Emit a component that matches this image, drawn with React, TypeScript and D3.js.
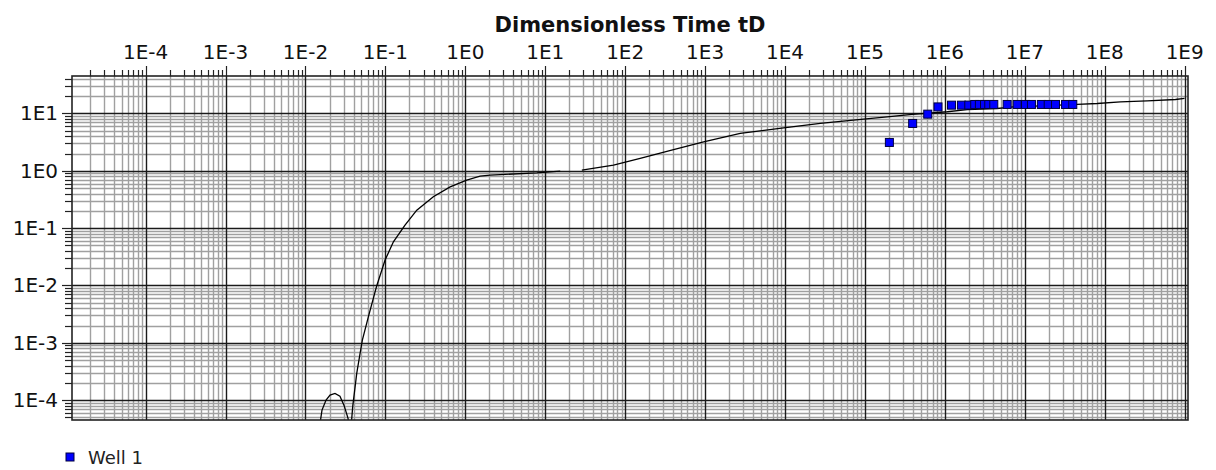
import React from 'react';
import * as d3 from 'd3';

// Axis decades (exponents) labelled on the chart
const X_EXPONENTS = [-4, -3, -2, -1, 0, 1, 2, 3, 4, 5, 6, 7, 8, 9];
const Y_EXPONENTS = [-4, -3, -2, -1, 0, 1];
const X_DOMAIN: [number, number] = [1.2e-5, 1.1e9];
const Y_DOMAIN: [number, number] = [4.5e-5, 45];

const TITLE = 'Dimensionless Time tD';
const SERIES_NAME = 'Well 1';

// Type curve (dimensionless pressure vs tD), first segment
const earlyTD = [
  0.0145, 0.0161, 0.0181, 0.0203, 0.0234, 0.027, 0.0304, 0.0341, 0.0361, 0.039,
  0.0438, 0.0482, 0.0515, 0.0612, 0.078, 0.0991, 0.126, 0.176, 0.247, 0.398,
  0.646, 1.04, 1.53, 2.04, 7.85, 15.4,
];
const earlyPD = [
  2.5e-5, 6.7e-5, 1.0e-4, 1.22e-4, 1.31e-4, 1.17e-4, 8.1e-5, 4.8e-5, 2.0e-5, 7.7e-5,
  2.93e-4, 6.5e-4, 1.11e-3, 2.84e-3, 9.9e-3, 0.0277, 0.0577, 0.113, 0.206, 0.352,
  0.525, 0.687, 0.807, 0.839, 0.92, 0.986,
];
// Type curve, second segment
const lateTD = [
  28.7, 71.4, 154, 403, 957, 2750, 9.6e3, 2.76e4, 9.6e4, 1.89e5, 3.89e5, 1.07e6,
  1.9e6, 4.5e6, 7.19e6, 4.52e7, 8.04e7, 1.57e8, 3.4e8, 7.67e8, 9.95e8,
];
const latePD = [
  1.03, 1.26, 1.64, 2.35, 3.2, 4.48, 5.61, 6.7, 7.96, 8.73, 9.62, 10.7,
  11.7, 12.2, 13.0, 14.4, 14.9, 15.9, 16.6, 17.5, 18.3,
];

// Well 1 observed points
const wellTD = [
  2.02e5, 3.95e5, 6.1e5, 8.2e5, 1.21e6, 1.61e6, 1.99e6, 2.36e6, 2.7e6, 3.13e6, 3.54e6,
  4.09e6, 6.01e6, 8.02e6, 1.02e7, 1.21e7, 1.61e7, 1.96e7, 2.42e7, 3.23e7, 3.98e7,
];
const wellPD = [
  3.12, 6.69, 9.72, 13.0, 13.95, 13.95, 14.0, 14.35, 14.35, 14.35, 14.35,
  14.35, 14.35, 14.35, 14.35, 14.35, 14.35, 14.35, 14.35, 14.35, 14.35,
];

function logValues(domain: [number, number], mults: number[]) {
  const out: number[] = [];
  const lo = Math.floor(Math.log10(domain[0])) - 1;
  const hi = Math.ceil(Math.log10(domain[1])) + 1;
  for (let e = lo; e <= hi; e++) {
    for (const k of mults) {
      const v = k * Math.pow(10, e);
      if (v >= domain[0] * 0.9999 && v <= domain[1] * 1.0001) out.push(v);
    }
  }
  return out;
}

export default function App() {
  const W = 1216;
  const H = 470;
  const L = 72, T = 76, R = 1188, B = 420;
  const x = d3.scaleLog().domain(X_DOMAIN).range([L, R]);
  const y = d3.scaleLog().domain(Y_DOMAIN).range([B, T]);

  const minorX = logValues(X_DOMAIN, [2, 3, 4, 5, 6, 7, 8, 9]);
  const minorY = logValues(Y_DOMAIN, [2, 3, 4, 5, 6, 7, 8, 9]);
  const majorX = X_EXPONENTS.map((e) => Math.pow(10, e));
  const majorY = Y_EXPONENTS.map((e) => Math.pow(10, e));

  const line = d3
    .line<[number, number]>()
    .x((d) => x(d[0]))
    .y((d) => y(d[1]));
  const early = earlyTD.map((t, i) => [t, earlyPD[i]] as [number, number]);
  const late = lateTD.map((t, i) => [t, latePD[i]] as [number, number]);

  const r = (v: number) => Math.round(v) + 0.5;
  const font = '"DejaVu Sans", Verdana, sans-serif';

  return (
    <svg
      width={W}
      height={H}
      style={{ position: 'absolute', left: 0, top: 0, background: '#fff' }}
      fontFamily={font}
    >
      <defs>
        <clipPath id="plotClip">
          <rect x={L} y={T} width={R - L} height={B - T} />
        </clipPath>
      </defs>
      <rect x={0} y={0} width={W} height={H} fill="#fff" />

      {/* minor grid */}
      <g stroke="#a0a0a0" strokeWidth={1.4}>
        {minorX.map((v, i) => (
          <line key={'mx' + i} x1={r(x(v))} x2={r(x(v))} y1={T} y2={B} />
        ))}
        {minorY.map((v, i) => (
          <line key={'my' + i} x1={L} x2={R} y1={r(y(v))} y2={r(y(v))} />
        ))}
      </g>
      {/* major grid */}
      <g stroke="#1a1a1a" strokeWidth={1.4}>
        {majorX.map((v, i) => (
          <line key={'Mx' + i} x1={r(x(v))} x2={r(x(v))} y1={T} y2={B} />
        ))}
        {majorY.map((v, i) => (
          <line key={'My' + i} x1={L} x2={R} y1={r(y(v))} y2={r(y(v))} />
        ))}
      </g>

      {/* type curve */}
      <g clipPath="url(#plotClip)" fill="none" stroke="#000" strokeWidth={1.3}>
        <path d={line(early) || ''} />
        <path d={line(late) || ''} />
      </g>

      {/* well points */}
      <g fill="#0000ff" stroke="#000040" strokeWidth={1}>
        {wellTD.map((t, i) => (
          <rect key={'p' + i} x={x(t) - 4} y={y(wellPD[i]) - 4} width={8} height={8} />
        ))}
      </g>

      {/* frame */}
      <rect x={L} y={T} width={R - L} height={B - T} fill="none" stroke="#222" strokeWidth={1.6} />

      {/* top ticks */}
      <g stroke="#222" strokeWidth={1.2}>
        {minorX.map((v, i) => (
          <line key={'tx' + i} x1={r(x(v))} x2={r(x(v))} y1={T} y2={T - 6} />
        ))}
        {majorX.map((v, i) => (
          <line key={'TX' + i} x1={r(x(v))} x2={r(x(v))} y1={T} y2={T - 10} />
        ))}
        {minorY.map((v, i) => (
          <line key={'ty' + i} x1={L} x2={L - 7} y1={r(y(v))} y2={r(y(v))} />
        ))}
        {majorY.map((v, i) => (
          <line key={'TY' + i} x1={L} x2={L - 10} y1={r(y(v))} y2={r(y(v))} />
        ))}
      </g>

      {/* tick labels */}
      <g fontSize={20} fill="#111">
        {X_EXPONENTS.map((e) => (
          <text key={'lx' + e} x={x(Math.pow(10, e))} y={59} textAnchor="middle">
            {'1E' + e}
          </text>
        ))}
        {Y_EXPONENTS.map((e) => (
          <text key={'ly' + e} x={58} y={y(Math.pow(10, e)) + 7} textAnchor="end">
            {'1E' + e}
          </text>
        ))}
      </g>

      {/* title */}
      <text x={(L + R) / 2} y={32} textAnchor="middle" fontSize={21} fontWeight="bold" fill="#111">
        {TITLE}
      </text>

      {/* legend */}
      <rect x={66} y={453} width={8} height={8} fill="#0000ff" stroke="#000040" strokeWidth={1} />
      <text x={88} y={464} fontSize={18} fill="#222">
        {SERIES_NAME}
      </text>
    </svg>
  );
}
